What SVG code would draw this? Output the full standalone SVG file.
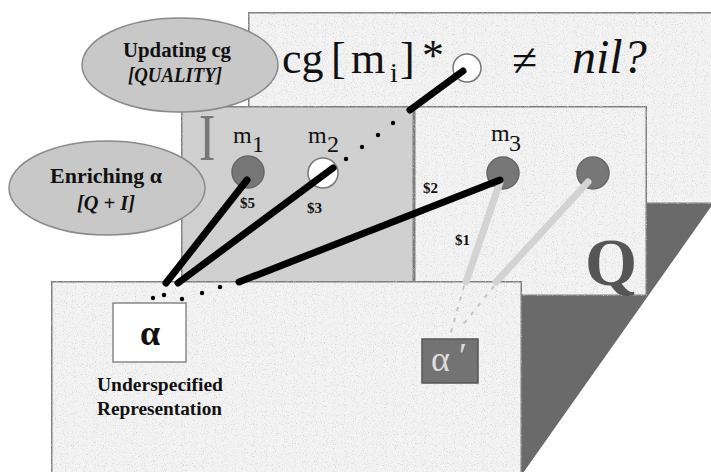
<svg xmlns="http://www.w3.org/2000/svg" width="711" height="472" viewBox="0 0 711 472">
<style>
.panel{stroke:#7b7b7b;stroke-width:3}
.light{fill:#f3f3f3}
.ell{fill:#c8c8c8;stroke:#8a8a8a;stroke-width:1.5}
.serif{font-family:"Liberation Serif","Times New Roman",serif}
.b{font-weight:bold}
.it{font-style:italic}
.ink{fill:#111}
.blk{stroke:#000;stroke-width:7;stroke-linecap:round;fill:none}
.gry{stroke:#d3d3d3;stroke-width:7;stroke-linecap:round;fill:none}
.faint{stroke:#c4c4c4;stroke-width:2;stroke-dasharray:4 7;fill:none}
.dot{fill:#000}
.dark{fill:#777;stroke:#666;stroke-width:1.5}
.white{fill:#fff;stroke:#777;stroke-width:1.5}
.lbl{font-size:15px}
</style>
<defs>
<filter id="tex" x="0" y="0" width="100%" height="100%">
<feTurbulence type="fractalNoise" baseFrequency="0.9" numOctaves="2" seed="4" result="n"/>
<feColorMatrix in="n" type="matrix" values="0 0 0 0 0.6 0 0 0 0 0.6 0 0 0 0 0.6 2.6 0 0 0 -1.4" result="g"/>
<feComposite in="g" in2="SourceGraphic" operator="atop"/>
</filter>
</defs>
<rect width="711" height="472" fill="#fff"/>

<g id="panel-cg">
<rect class="panel light" x="248" y="12" width="480" height="192" filter="url(#tex)"/>
</g>
<g id="fold">
<polygon points="520,204 713,204 523,473 520,473" fill="#6a6a6a"/>
</g>
<g id="panel-I">
<rect class="panel" x="181" y="106" width="233" height="190" fill="#d0d0d0" filter="url(#tex)"/>
<text class="serif" font-size="68" fill="#777" transform="translate(199,160) scale(0.72,1)">I</text>
</g>
<g id="panel-Q">
<rect class="panel light" x="414" y="106" width="233" height="190" filter="url(#tex)"/>
<text class="serif b" font-size="67" fill="#555" x="585" y="285">Q</text>
</g>
<g id="panel-bottom">
<rect class="panel light" x="51" y="281" width="471" height="200" filter="url(#tex)"/>
</g>

<g id="expr">
<text class="serif ink" font-size="44"><tspan x="282" y="73">cg</tspan><tspan x="331" y="73">[</tspan><tspan x="351" y="73">m</tspan><tspan x="390" y="82" font-size="28">i</tspan><tspan x="400" y="73">]</tspan><tspan x="422" y="70">*</tspan></text>
<text class="serif ink" font-size="46" x="512" y="76">≠</text>
<text class="serif it ink" font-size="48" x="572" y="73">nil?</text>
</g>

<g id="ell-updating">
<ellipse class="ell" cx="180" cy="65" rx="98" ry="47"/>
<text class="serif b ink" font-size="20" x="177" y="57" text-anchor="middle" textLength="108" lengthAdjust="spacingAndGlyphs">Updating cg</text>
<text class="serif b it ink" font-size="20" x="175" y="82" text-anchor="middle" textLength="94" lengthAdjust="spacingAndGlyphs">[QUALITY]</text>
</g>
<g id="ell-enriching">
<ellipse class="ell" cx="107" cy="188" rx="98" ry="47"/>
<text class="serif b ink" font-size="20" x="106" y="183" text-anchor="middle" textLength="112" lengthAdjust="spacingAndGlyphs">Enriching α</text>
<text class="serif b it ink" font-size="20" x="106" y="210" text-anchor="middle" textLength="58" lengthAdjust="spacingAndGlyphs">[Q + I]</text>
</g>

<g id="node-cg">
<circle class="white" cx="467" cy="68" r="14"/>
</g>
<g id="node-m1">
<circle class="dark" cx="248" cy="172" r="16"/>
<text class="serif ink" font-size="24"><tspan x="233" y="143">m</tspan><tspan x="252" y="152">1</tspan></text>
</g>
<g id="node-m2">
<circle class="white" cx="323" cy="173" r="15"/>
<text class="serif ink" font-size="24"><tspan x="308" y="143">m</tspan><tspan x="327" y="152">2</tspan></text>
</g>
<g id="node-m3">
<circle class="dark" cx="503" cy="173" r="16"/>
<text class="serif ink" font-size="24"><tspan x="491" y="141">m</tspan><tspan x="509" y="151">3</tspan></text>
</g>
<g id="node-q2">
<circle class="dark" cx="593" cy="173" r="16"/>
</g>
<g id="node-alpha">
<rect x="113" y="303" width="73" height="59" fill="#fff" stroke="#888" stroke-width="1.5"/>
<text class="serif b ink" font-size="36" x="150" y="345" text-anchor="middle">α</text>
<text class="serif b ink" font-size="19" x="97" y="391" textLength="126" lengthAdjust="spacingAndGlyphs">Underspecified</text>
<text class="serif b ink" font-size="19" x="97" y="415" textLength="125" lengthAdjust="spacingAndGlyphs">Representation</text>
</g>
<g id="node-alpha-prime">
<rect x="422" y="339" width="56" height="44" fill="#737373" stroke="#555" stroke-width="1.5"/>
<text class="serif" font-size="36" fill="#dcdcdc"><tspan x="431" y="371">α</tspan><tspan x="459" y="368">′</tspan></text>
</g>

<g id="connectors">
<line class="gry" x1="500" y1="182" x2="466" y2="282"/>
<line class="gry" x1="588" y1="182" x2="496" y2="282"/>
<line class="faint" x1="464" y1="286" x2="450" y2="336"/>
<line class="faint" x1="494" y1="286" x2="462" y2="326"/>
<line class="blk" x1="463" y1="71" x2="410" y2="110"/>
<line class="blk" x1="247" y1="180" x2="166" y2="283"/>
<line class="blk" x1="333" y1="168" x2="178" y2="283"/>
<line class="blk" x1="500" y1="180" x2="239" y2="282"/>
<circle class="dot" cx="346" cy="159" r="2.2"/>
<circle class="dot" cx="362" cy="147" r="2.2"/>
<circle class="dot" cx="378" cy="135" r="2.2"/>
<circle class="dot" cx="393" cy="123" r="2.2"/>
<circle class="dot" cx="153" cy="298" r="2.2"/>
<circle class="dot" cx="164" cy="295" r="2.2"/>
<circle class="dot" cx="182" cy="299" r="2.2"/>
<circle class="dot" cx="202" cy="293" r="2.2"/>
<circle class="dot" cx="220" cy="287" r="2.2"/>
<text class="serif b ink lbl" x="240" y="208">$5</text>
<text class="serif b ink lbl" x="307" y="213">$3</text>
<text class="serif b ink lbl" x="423" y="193">$2</text>
<text class="serif b ink lbl" x="455" y="245">$1</text>
</g>
</svg>
